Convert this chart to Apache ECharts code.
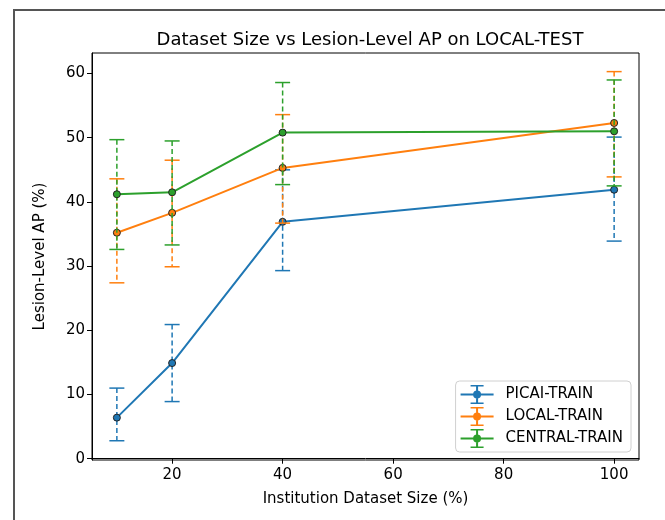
<!DOCTYPE html>
<html>
<head>
<meta charset="UTF-8">
<title>Dataset Size vs Lesion-Level AP</title>
<script src="https://cdn.jsdelivr.net/npm/echarts@6/dist/echarts.min.js"></script>
<style>
  * { margin: 0; padding: 0; }
  body { background: #fff; }
  #app { width: 665px; height: 520px; }
</style>
</head>
<body>
<div id="app"></div>
<script>
var sizes = [10, 20, 40, 100];
var seriesNames = ['PICAI-TRAIN', 'LOCAL-TRAIN', 'CENTRAL-TRAIN'];
var colors = ['#1f77b4', '#ff7f0e', '#2ca02c'];

var picaiAP   = [6.4, 14.9, 36.9, 41.9];
var picaiLow  = [2.8, 8.9, 29.3, 33.9];
var picaiHigh = [11.0, 20.9, 45.0, 50.1];

var localAP   = [35.2, 38.3, 45.3, 52.3];
var localLow  = [27.4, 29.9, 36.7, 43.9];
var localHigh = [43.6, 46.5, 53.6, 60.3];

var centralAP   = [41.2, 41.5, 50.8, 51.0];
var centralLow  = [32.6, 33.3, 42.7, 42.5];
var centralHigh = [49.7, 49.5, 58.6, 59.0];

var xTicks = [20, 40, 60, 80, 100];
var yTicks = [0, 10, 20, 30, 40, 50, 60];

var font = 'DejaVu Sans';
var aps = [picaiAP, localAP, centralAP];
var lows = [picaiLow, localLow, centralLow];
var highs = [picaiHigh, localHigh, centralHigh];

// legend icon: line + errorbar + marker
var legendIcon = 'path://M0 10H33V12H0Z M15.5 2.5H17.5V19.5H15.5Z M10 1.5H23V3H10Z M10 19H23V20.5H10Z ' +
  'M12.5 11A4 4 0 1 1 20.5 11A4 4 0 1 1 12.5 11Z';

function errRender(color) {
  return function (params, api) {
    var x = api.value(0);
    var top = api.coord([x, api.value(2)]);
    var bot = api.coord([x, api.value(1)]);
    var cap = 7.5;
    return {
      type: 'group',
      children: [
        { type: 'line', shape: { x1: top[0], y1: top[1], x2: bot[0], y2: bot[1] },
          style: { stroke: color, lineWidth: 1.5, lineDash: [5, 3] } },
        { type: 'line', shape: { x1: top[0] - cap, y1: top[1], x2: top[0] + cap, y2: top[1] },
          style: { stroke: color, lineWidth: 1.5 } },
        { type: 'line', shape: { x1: bot[0] - cap, y1: bot[1], x2: bot[0] + cap, y2: bot[1] },
          style: { stroke: color, lineWidth: 1.5 } }
      ]
    };
  };
}

var series = [];
seriesNames.forEach(function (name, i) {
  series.push({
    name: name + '_err',
    type: 'custom',
    renderItem: errRender(colors[i]),
    data: sizes.map(function (x, j) { return [x, lows[i][j], highs[i][j]]; }),
    z: 2 + i * 2,
    silent: true
  });
  series.push({
    name: name,
    type: 'line',
    data: sizes.map(function (x, j) { return [x, aps[i][j]]; }),
    symbol: 'circle',
    symbolSize: 7,
    showSymbol: true,
    color: colors[i],
    lineStyle: { color: colors[i], width: 2 },
    itemStyle: { color: colors[i], borderColor: '#222', borderWidth: 1 },
    z: 3 + i * 2
  });
});

var myChart = echarts.init(document.getElementById('app'));
myChart.setOption({
  animation: false,
  backgroundColor: '#fff',
  textStyle: { fontFamily: font },
  title: {
    text: 'Dataset Size vs Lesion-Level AP on LOCAL-TEST',
    left: 365, top: 26, textAlign: 'center',
    textStyle: { fontFamily: font, fontSize: 18, fontWeight: 'normal', color: '#000' }
  },
  graphic: [{
    type: 'rect',
    shape: { x: 14, y: 10, width: 700, height: 600 },
    style: { fill: 'none', stroke: '#555', lineWidth: 2 },
    silent: true
  }],
  legend: {
    data: seriesNames,
    orient: 'vertical',
    right: 34, bottom: 68,
    icon: legendIcon,
    itemWidth: 33, itemHeight: 20,
    itemGap: 3,
    padding: [4, 8, 4, 5],
    backgroundColor: '#fff',
    borderColor: '#d0d0d0',
    borderWidth: 1,
    borderRadius: 4,
    itemStyle: { borderWidth: 0 },
    lineStyle: { width: 0 },
    textStyle: { fontFamily: font, fontSize: 15, color: '#000', padding: [0, 0, 0, 7] }
  },
  grid: {
    left: 92, top: 53, right: 26, bottom: 60,
    show: true, borderColor: '#000', borderWidth: 1
  },
  xAxis: {
    type: 'value',
    min: 5.5, max: 104.5,
    name: 'Institution Dataset Size (%)',
    nameLocation: 'middle', nameGap: 32,
    nameTextStyle: { fontFamily: font, fontSize: 15, color: '#000' },
    splitLine: { show: false },
    axisLine: { show: true, lineStyle: { color: '#000' } },
    axisTick: { show: true, length: 5, lineStyle: { color: '#000' }, customValues: xTicks },
    axisLabel: { fontFamily: font, fontSize: 15, color: '#000', margin: 8, customValues: xTicks }
  },
  yAxis: {
    type: 'value',
    min: -0.2, max: 63.2,
    name: 'Lesion-Level AP (%)',
    nameLocation: 'middle', nameGap: 44,
    nameTextStyle: { fontFamily: font, fontSize: 15, color: '#000' },
    splitLine: { show: false },
    axisLine: { show: true, lineStyle: { color: '#000' } },
    axisTick: { show: true, length: 5, lineStyle: { color: '#000' }, customValues: yTicks },
    axisLabel: { fontFamily: font, fontSize: 15, color: '#000', margin: 7, customValues: yTicks }
  },
  series: series
});
</script>
</body>
</html>
